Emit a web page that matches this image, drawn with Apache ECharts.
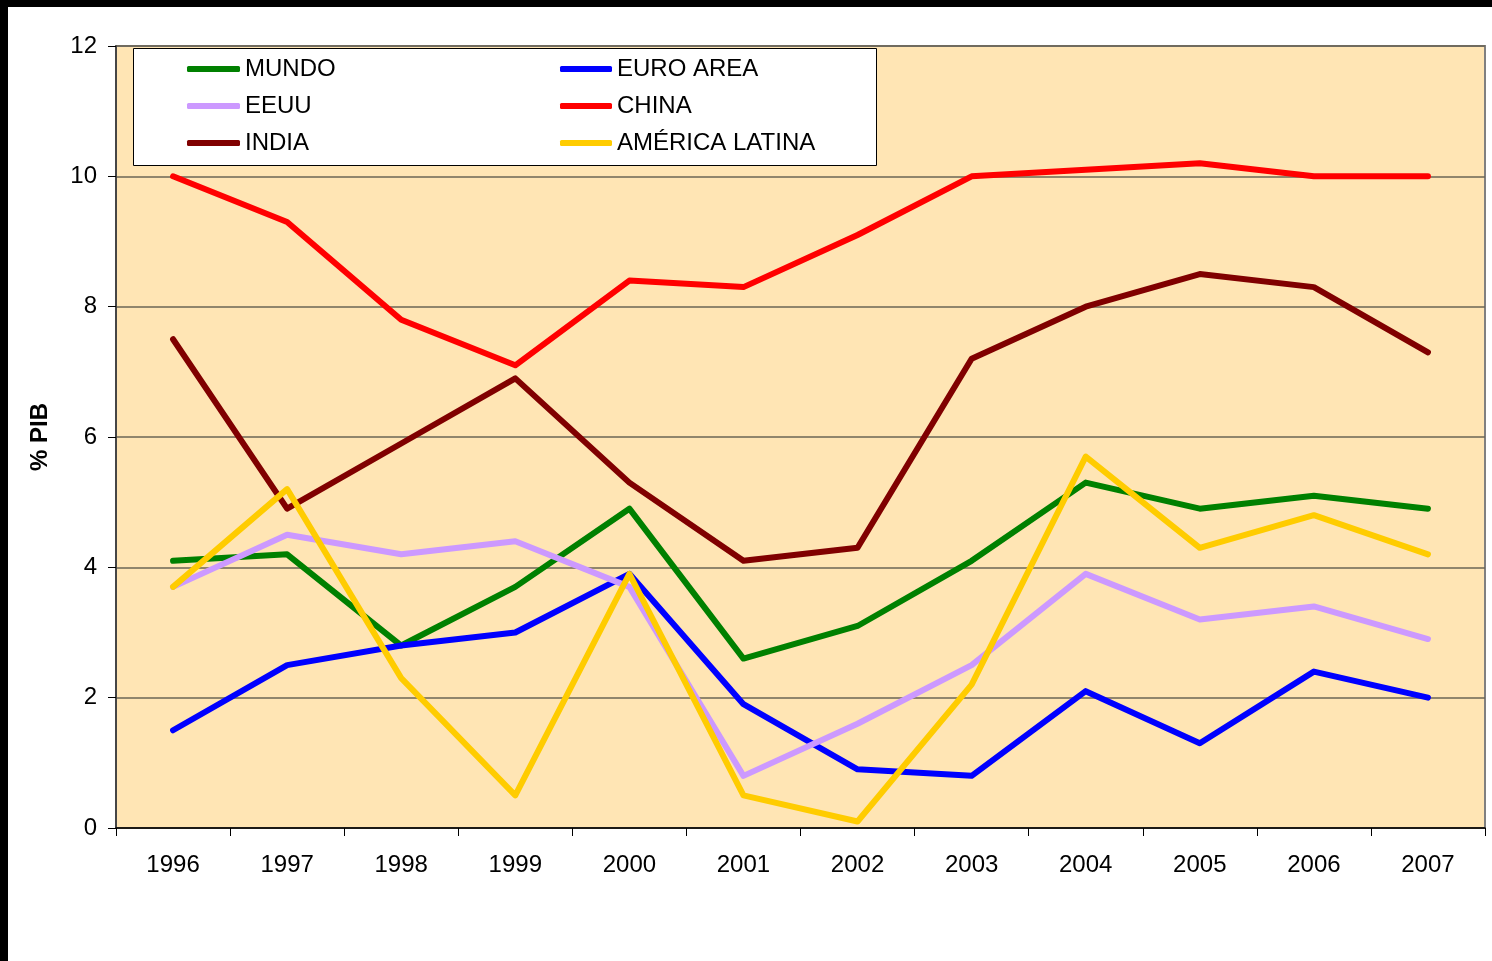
<!DOCTYPE html>
<html>
<head>
<meta charset="utf-8">
<script src="https://cdn.jsdelivr.net/npm/echarts@6/dist/echarts.min.js"></script>
<style>
html,body{margin:0;padding:0;background:#fff;}
#chart{width:1492px;height:961px;}
</style>
</head>
<body>
<div id="chart"></div>
<script>
const years = ['1996','1997','1998','1999','2000','2001','2002','2003','2004','2005','2006','2007'];
const yTicks = [0, 2, 4, 6, 8, 10, 12];
const mundo = [4.1, 4.2, 2.8, 3.7, 4.9, 2.6, 3.1, 4.1, 5.3, 4.9, 5.1, 4.9];
const euroArea = [1.5, 2.5, 2.8, 3.0, 3.9, 1.9, 0.9, 0.8, 2.1, 1.3, 2.4, 2.0];
const eeuu = [3.7, 4.5, 4.2, 4.4, 3.7, 0.8, 1.6, 2.5, 3.9, 3.2, 3.4, 2.9];
const china = [10.0, 9.3, 7.8, 7.1, 8.4, 8.3, 9.1, 10.0, 10.1, 10.2, 10.0, 10.0];
const india = [7.5, 4.9, 5.9, 6.9, 5.3, 4.1, 4.3, 7.2, 8.0, 8.5, 8.3, 7.3];
const americaLatina = [3.7, 5.2, 2.3, 0.5, 3.9, 0.5, 0.1, 2.2, 5.7, 4.3, 4.8, 4.2];

const seriesDefs = [
  {name: 'MUNDO', data: mundo, color: '#008000'},
  {name: 'EURO AREA', data: euroArea, color: '#0000FF'},
  {name: 'EEUU', data: eeuu, color: '#CC99FF'},
  {name: 'CHINA', data: china, color: '#FF0000'},
  {name: 'INDIA', data: india, color: '#800000'},
  {name: 'AMÉRICA LATINA', data: americaLatina, color: '#FFCC00'}
];

const chart = echarts.init(document.getElementById('chart'), null, {renderer: 'canvas'});
const font = '"Liberation Sans", Arial, sans-serif';
const legendText = {fontFamily: font, fontSize: 24, color: '#000'};

const option = {
  animation: false,
  textStyle: {fontFamily: font},
  grid: {
    left: 116, top: 46, right: 7, bottom: 133,
    show: true, backgroundColor: '#FFE5B4', borderColor: '#808080', borderWidth: 2
  },
  graphic: [
    {type: 'rect', left: 0, top: 0, shape: {width: 1492, height: 7}, style: {fill: '#000'}, z: 100},
    {type: 'rect', left: 0, top: 0, shape: {width: 8, height: 961}, style: {fill: '#000'}, z: 100},
    {type: 'rect', left: 133, top: 48, shape: {width: 743, height: 117}, style: {fill: '#fff', stroke: '#000', lineWidth: 1}, z: 5}
  ],
  legend: [
    {
      data: ['MUNDO', 'EEUU', 'INDIA'], orient: 'vertical', left: 182, top: 52,
      itemWidth: 53, itemHeight: 6, itemGap: 13, icon: 'roundRect',
      textStyle: legendText, z: 10, selectedMode: false
    },
    {
      data: ['EURO AREA', 'CHINA', 'AMÉRICA LATINA'], orient: 'vertical', left: 555, top: 52,
      itemWidth: 52, itemHeight: 6, itemGap: 13, icon: 'roundRect',
      textStyle: legendText, z: 10, selectedMode: false
    }
  ],
  xAxis: {
    type: 'category', data: years, boundaryGap: true,
    axisLine: {lineStyle: {color: '#000', width: 1.5}},
    axisTick: {show: true, length: 8, lineStyle: {color: '#000'}},
    axisLabel: {fontSize: 24, color: '#000', margin: 25, fontFamily: font},
    splitLine: {show: false}
  },
  yAxis: {
    type: 'value', min: yTicks[0], max: yTicks[yTicks.length - 1], interval: 2,
    name: '% PIB', nameLocation: 'middle', nameRotate: 90, nameGap: 64,
    nameTextStyle: {fontSize: 24, fontWeight: 'bold', color: '#000', fontFamily: font},
    axisLine: {show: true, lineStyle: {color: '#333', width: 1.5}},
    axisTick: {show: true, length: 8, lineStyle: {color: '#000'}},
    axisLabel: {fontSize: 24, color: '#000', margin: 19, fontFamily: font},
    splitLine: {show: true, lineStyle: {color: '#6b6555', width: 1.5}}
  },
  series: seriesDefs.map(s => ({
    name: s.name, type: 'line', data: s.data, color: s.color,
    symbol: 'none', smooth: false,
    lineStyle: {width: 6, color: s.color, cap: 'round', join: 'round'},
    z: 3
  }))
};
chart.setOption(option);
</script>
</body>
</html>
